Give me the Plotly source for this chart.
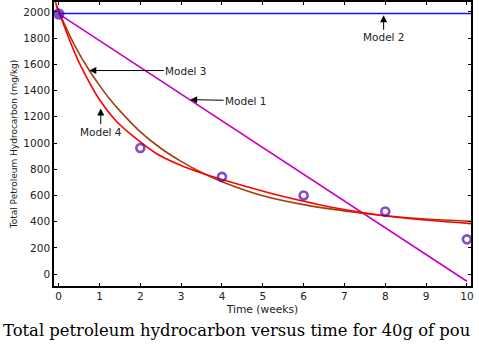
import plotly.graph_objects as go

# Measured data (weeks, mg/kg)
obs_t = [0, 2, 4, 6, 8, 10]
obs_tph = [1985, 962, 742, 600, 478, 265]

# Model curves
m1_t = [0, 10]
m1_v = [1985, -55]

m2_t = [0, 10.1]
m2_v = [1988, 1988]

m3_t = [-0.06, 0, 0.4, 0.75, 1.0, 1.25, 1.5, 2.0, 2.5, 3.0, 3.5, 4.0, 5.0, 6.0, 7.0, 8.0, 9.0, 10.1]
m3_v = [2050, 2005, 1740, 1553, 1440, 1335, 1245, 1085, 960, 860, 775, 705, 598, 530, 482, 445, 420, 402]

m4_t = [-0.08, 0, 0.38, 0.56, 1.0, 1.4, 1.83, 2.39, 3.0, 3.46, 4.0, 5.1, 6.0, 6.65, 8.28, 10.1]
m4_v = [2075, 2005, 1697, 1575, 1330, 1170, 1050, 920, 828, 775, 722, 625, 556, 512, 433, 385]

x_ticks = list(range(0, 11))
y_ticks = list(range(0, 2001, 200))

SANS = "DejaVu Sans"
TXT = "#222222"

fig = go.Figure()
fig.add_trace(go.Scatter(x=m2_t, y=m2_v, mode="lines", line=dict(color="#1010ff", width=1.6)))
fig.add_trace(go.Scatter(x=m1_t, y=m1_v, mode="lines", line=dict(color="#c800c8", width=1.6)))
fig.add_trace(go.Scatter(x=m3_t, y=m3_v, mode="lines", line=dict(color="#a0400c", width=1.6, shape="spline", smoothing=0.8)))
fig.add_trace(go.Scatter(x=m4_t, y=m4_v, mode="lines", line=dict(color="#ff0000", width=1.6, shape="spline", smoothing=0.8)))
fig.add_trace(go.Scatter(x=obs_t, y=obs_tph, mode="markers",
                         marker=dict(symbol=["circle"] + ["circle-open"] * (len(obs_t) - 1),
                                     size=[9] + [8] * (len(obs_t) - 1), color="#5000b0",
                                     line=dict(width=2.6, color="#5000b0"))))

af = dict(family=SANS, size=10.5, color=TXT)
arrow = dict(showarrow=True, arrowhead=2, arrowsize=1.4, arrowwidth=1, arrowcolor="black", font=af)
fig.add_annotation(x=7.96, y=1975, ax=0, ay=22, text="Model 2", **arrow)
fig.add_annotation(x=0.75, y=1553, ax=97, ay=0, text="Model 3", **arrow)
fig.add_annotation(x=3.22, y=1331, ax=56, ay=1, text="Model 1", **arrow)
fig.add_annotation(x=1.03, y=1263, ax=0, ay=23, text="Model 4", **arrow)

fig.add_annotation(xref="paper", yref="paper", x=0, y=0, xanchor="left", yanchor="top",
                   xshift=-53, yshift=-33, showarrow=False,
                   text="Total petroleum hydrocarbon versus time for 40g of pou",
                   font=dict(family="DejaVu Serif", size=16.4, color="black"))

axis_common = dict(showgrid=False, zeroline=False, showline=True, linecolor="black", linewidth=1.6,
                   mirror="ticks", ticks="inside", ticklen=3, tickcolor="black",
                   tickfont=dict(family=SANS, size=10.5, color=TXT))

fig.update_layout(
    width=479, height=345, showlegend=False,
    margin=dict(l=54, r=8, t=0, b=59),
    paper_bgcolor="white", plot_bgcolor="white",
    xaxis=dict(range=[-0.115, 10.1], tickvals=x_ticks,
               title=dict(text="Time (weeks)", font=dict(family=SANS, size=10.7, color=TXT), standoff=4),
               **axis_common),
    yaxis=dict(range=[-91, 2076], tickvals=y_ticks,
               title=dict(text="Total Petroleum Hydrocarbon (mg/kg)", font=dict(family=SANS, size=9, color=TXT), standoff=4),
               **axis_common),
)

fig.write_html("out.html")
